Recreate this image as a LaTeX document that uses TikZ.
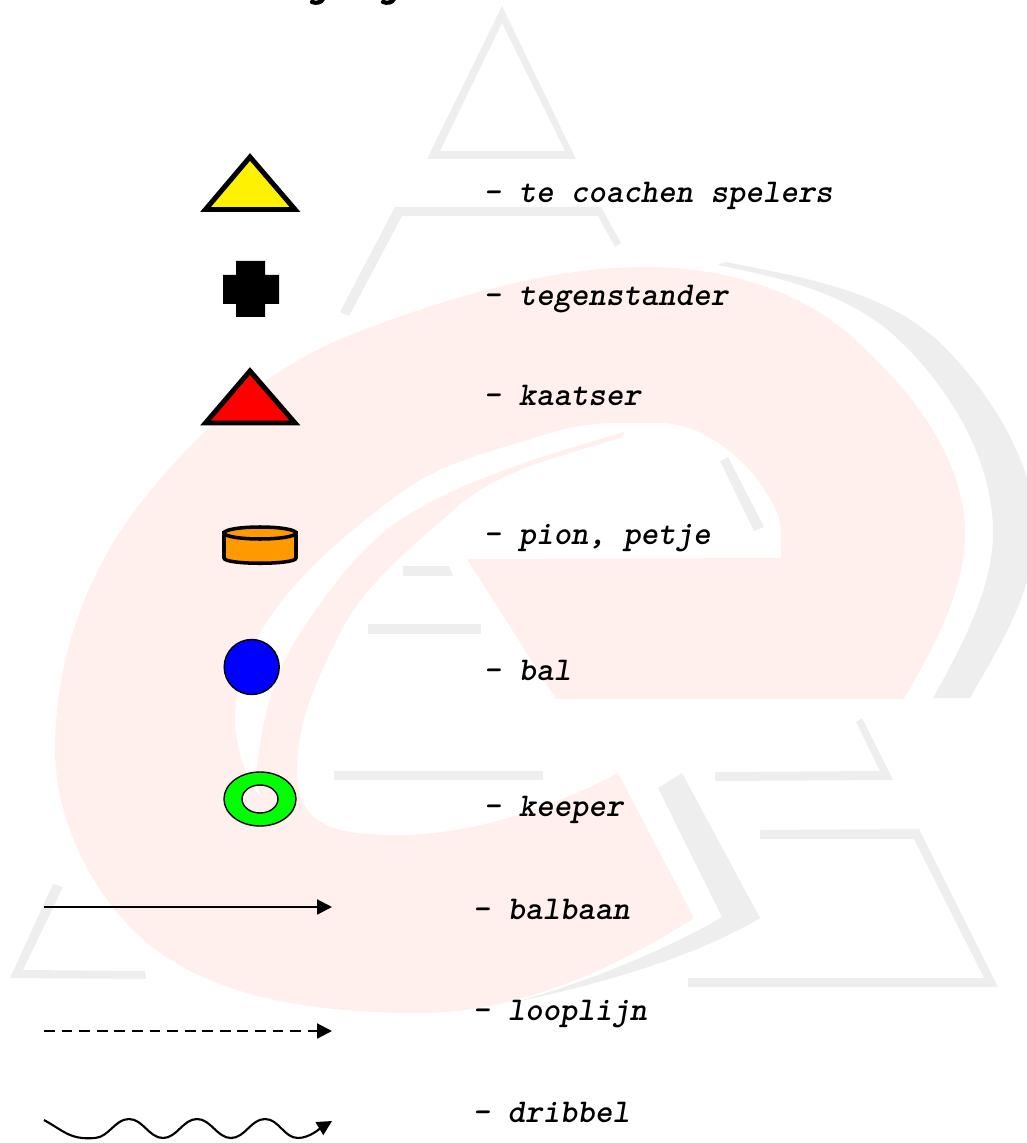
\documentclass[tikz,border=0pt]{standalone}
\usetikzlibrary{arrows.meta}
\definecolor{roze}{HTML}{FFF0ED}
\definecolor{grijs}{HTML}{EEEEEE}
\definecolor{oranje}{HTML}{FF9900}
\begin{document}
\begin{tikzpicture}
  [x=.01cm,y=-.01cm,every node/.style={anchor=base west,inner sep=0pt,font=\fontsize{9.45pt}{11pt}\ttfamily\bfseries\itshape},
  speler/.style={draw=black,line width=1.42pt},
  dun/.style={draw=black,line width=.4pt},
  lijn/.style={-{Triangle[length=4.2pt,width=4.2pt]},line width=.6pt}]
  \useasboundingbox (0,0) rectangle (1026,1143);

  \fill[grijs,even odd rule] (502,6) -- (427,159) -- (576,159) -- cycle (502,23) -- (440,151) -- (565,151) -- cycle;
  \fill[grijs] (349,316) -- (402,216) -- (598,216) -- (615,247) -- (621,243) -- (601,207) -- (395,207) -- (340,312) -- cycle;
  \fill[grijs] (717,265) -- (726,262)
    .. controls +(75,15) and +(-55,-50) .. (937,340)
    .. controls +(45,42) and +(0,-70) .. (1035,528)
    .. controls +(0,65) and +(28,-50) .. (970,698)
    -- (933,698)
    .. controls +(28,-50) and +(0,55) .. (993,533)
    .. controls +(0,-75) and +(50,48) .. (899,340)
    .. controls +(-50,-48) and +(60,12) .. (717,265) -- cycle;
  \fill[grijs] (658,788) -- (682,773) -- (760,918)
    .. controls +(-75,45) and +(80,-15) .. (490,1007)
    .. controls +(60,-10) and +(-60,36) .. (722,917) -- cycle;
  \fill[grijs] (403,566) -- (449,566) -- (453,576) -- (403,576) -- cycle;
  \fill[grijs] (368,624) -- (481,624) -- (481,634) -- (368,634) -- cycle;
  \fill[grijs] (334,771) -- (543,771) -- (543,780) -- (334,780) -- cycle;
  \fill[grijs] (720,461) -- (728,457) -- (764,527) -- (754,531) -- cycle;
  \fill[grijs] (856,722) -- (862,718) -- (893,780) -- (715,781) -- (715,772) -- (880,771) -- cycle;
  \fill[grijs] (760,830) -- (919,829) -- (998,987) -- (688,987) -- (688,978) -- (984,978) -- (914,839) -- (760,839) -- cycle;
  \fill[grijs] (53,884) -- (63,887) -- (23,970) -- (145,971) -- (146,979) -- (10,978) -- cycle;

  \fill[roze] (904,699)
    .. controls +(28,-50) and +(0,60) .. (965,533)
    .. controls +(0,-75) and +(60,53) .. (850,335)
    .. controls +(-55,-48) and +(72,0) .. (646,267)
    .. controls +(-100,0) and +(93,-36) .. (350,335)
    .. controls +(-87,34) and +(56,-74) .. (133,513)
    .. controls +(-50,68) and +(0,-85) .. (55,750)
    .. controls +(0,65) and +(-46,-46) .. (133,930)
    .. controls +(70,70) and +(-100,0) .. (420,1013)
    .. controls +(95,0) and +(-80,52) .. (694,918)
    -- (618,773)
    .. controls +(-66,35) and +(75,0) .. (397,835)
    .. controls +(-70,0) and +(0,52) .. (297,770)
    .. controls +(0,-50) and +(-22,45) .. (340,633)
    .. controls +(26,-51) and +(-43,38) .. (457,507)
    .. controls +(43,-38) and +(-57,18) .. (623,437)
    -- (624,432)
    .. controls +(-75,22) and +(60,-40) .. (400,520)
    .. controls +(-41,28) and +(28,-42) .. (300,633)
    .. controls +(-25,38) and +(5,-45) .. (258,760)
    .. controls +(-3,20) and +(-6,-14) .. (262,798)
    .. controls +(-15,-14) and +(0,25) .. (235,720)
    .. controls +(0,-30) and +(-15,26) .. (260,633)
    .. controls +(33,-57) and +(-53,40) .. (400,493)
    .. controls +(40,-30) and +(-47,15) .. (540,436)
    .. controls +(47,-15) and +(-50,0) .. (659,423)
    .. controls +(50,0) and +(-19,-48) .. (779,517)
    .. controls +(3,14) and +(0,-14) .. (781,558)
    -- (467,559) -- (556,699) -- cycle;

  \draw[line width=1.2pt,line cap=round] (312,2) .. controls (316,3.5) and (321,3) .. (323,-1);
  \draw[line width=1.2pt,line cap=round] (383,2) .. controls (387,3.5) and (392,3) .. (394,-1);

  \draw[speler,fill=yellow] (250,157) -- (295,209.5) -- (205.5,209.5) -- cycle;
  \fill[black] (236,261) -- (265,261) -- (265,275) -- (279,275) -- (279,304) -- (265,304) -- (265,317) -- (236,317) -- (236,304) -- (223,304) -- (223,275) -- (236,275) -- cycle;
  \draw[speler,fill=red] (250,371) -- (295,423) -- (205.5,423) -- cycle;

  \draw[line width=1pt,fill=oranje] (224,533) -- (224,558) .. controls (224,565) and (296,565) .. (296,558) -- (296,533) -- cycle;
  \draw[line width=1pt,fill=oranje] (260,533) ellipse [x radius=36,y radius=6];
  \node[circle,dun,fill=blue,minimum size=.55cm] (0) at (251.7,667) [anchor=center] {};
  \draw[dun,fill=green,even odd rule] (260,799) ellipse [x radius=36,y radius=27] (260,799) ellipse [x radius=18,y radius=14];

  \coordinate (1) at (44,907);
  \coordinate (2) at (332,907);
  \coordinate (3) at (44,1031);
  \coordinate (4) at (332,1031);
  \coordinate (5) at (44,1120);
  \coordinate (6) at (95,1138);
  \coordinate (7) at (129,1119);
  \coordinate (8) at (163,1138);
  \coordinate (9) at (197,1119);
  \coordinate (10) at (231,1138);
  \coordinate (11) at (265,1119);
  \coordinate (12) at (298,1138);
  \coordinate (13) at (332,1121);

  \draw[lijn] (1) -- (2);
  \draw[lijn,dash pattern=on 3.1pt off 1.9pt] (3) -- (4);
  \draw[lijn] (5) .. controls +(20,11) and +(-25,2) .. (6)
    .. controls +(14,-1) and +(-14,0) .. (7)
    .. controls +(14,0) and +(-14,0) .. (8)
    .. controls +(14,0) and +(-14,0) .. (9)
    .. controls +(14,0) and +(-14,0) .. (10)
    .. controls +(14,0) and +(-14,0) .. (11)
    .. controls +(14,0) and +(-14,0) .. (12)
    .. controls +(12,0) and +(-10,6) .. (13);

  \node (14) at (483,203) {– te coachen spelers};
  \node (15) at (483,305) {– tegenstander};
  \node (16) at (483,406) {– kaatser};
  \node (17) at (483,544) {– pion, petje};
  \node (18) at (483,680) {– bal};
  \node (19) at (483,816) {– keeper};
  \node (20) at (472,919) {– balbaan};
  \node (21) at (472,1020) {– looplijn};
  \node (22) at (472,1122) {– dribbel};

\end{tikzpicture}
\end{document}
